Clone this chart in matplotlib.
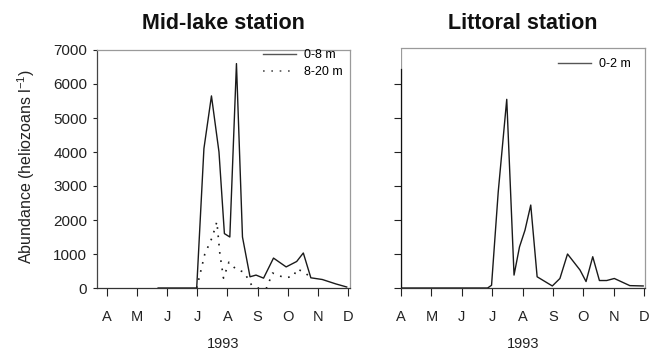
import matplotlib
matplotlib.use("Agg")
import matplotlib.pyplot as plt
from matplotlib.lines import Line2D

plt.rcParams['font.family'] = ['Liberation Sans', 'DejaVu Sans']
plt.rcParams['mathtext.fontset'] = 'custom'
plt.rcParams['mathtext.rm'] = 'Liberation Sans'
plt.rcParams['mathtext.it'] = 'Liberation Sans:italic'

# Month positions: 0 = 1 April ... 8 = 1 December 1993
month_labels = ['A', 'M', 'J', 'J', 'A', 'S', 'O', 'N', 'D']
yticks = [0, 1000, 2000, 3000, 4000, 5000, 6000, 7000]

# Mid-lake station, 0-8 m
mid_shallow_t = [1.7, 2.98, 3.22, 3.47, 3.72, 3.9, 4.08, 4.3, 4.5, 4.75, 4.95,
                 5.2, 5.53, 5.95, 6.3, 6.52, 6.77, 7.15, 7.6, 7.96]
mid_shallow_v = [0, 0, 4100, 5650, 4000, 1600, 1500, 6600, 1500, 330, 380,
                 290, 880, 620, 780, 1030, 300, 250, 120, 30]

# Mid-lake station, 8-20 m
mid_deep_t = [2.98, 3.1, 3.25, 3.5, 3.65, 3.75, 3.87, 4.05, 4.3, 4.55, 4.8,
              5.0, 5.3, 5.5, 5.9, 6.2, 6.3, 6.55, 6.77]
mid_deep_v = [0, 440, 1000, 1500, 1950, 1000, 290, 760, 540, 470, 90,
              0, 0, 440, 300, 340, 560, 470, 300]

# Littoral station, 0-2 m
lit_t = [0, 2.85, 2.98, 3.2, 3.48, 3.72, 3.9, 4.08, 4.27, 4.48, 4.98, 5.23,
         5.48, 5.89, 6.09, 6.31, 6.53, 6.77, 7.02, 7.53, 7.97]
lit_v = [0, 0, 80, 2830, 5550, 380, 1210, 1700, 2440, 330, 60, 280,
         1000, 530, 190, 920, 220, 220, 280, 70, 60]

W, H = 655, 350
fig = plt.figure(figsize=(W / 100, H / 100), dpi=100)

def box(l, t, r, b):
    return [l / W, 1 - b / H, (r - l) / W, (b - t) / H]

ax1 = fig.add_axes(box(97, 50, 350, 288))
ax2 = fig.add_axes(box(401, 48, 645, 288))

lc = '#1a1a1a'
ax1.plot(mid_shallow_t, mid_shallow_v, color=lc, lw=1.0, label='0-8 m')
ax1.plot(mid_deep_t, mid_deep_v, color=lc, lw=1.2, linestyle=(0, (1, 4)),
         label='8-20 m')
ax2.plot(lit_t, lit_v, color=lc, lw=1.0, label='0-2 m')

ax1.set_xlim(-0.33, 8.07)
ax2.set_xlim(0, 8.03)
ax1.set_ylim(0, 7000)
ax2.set_ylim(0, 7060)

for ax in (ax1, ax2):
    ax.set_xticks(range(9))
    ax.set_xticklabels(month_labels, fontsize=10.5)
    ax.tick_params(axis='x', direction='out', length=5.5, width=0.8,
                   pad=10, colors='#222')
    ax.spines['top'].set_color('#9a9a9a')
    ax.spines['right'].set_color('#9a9a9a')
    ax.spines['bottom'].set_color('#333')
    ax.spines['left'].set_color('#444')
    for s in ax.spines.values():
        s.set_linewidth(0.9)
    ax.text(0.5, -0.235, '1993', transform=ax.transAxes, ha='center',
            va='center', fontsize=10.5, color='#222')

ax1.set_yticks(yticks)
ax1.set_yticklabels([str(v) for v in yticks], fontsize=11)
ax1.tick_params(axis='y', direction='out', length=3, width=0.8, pad=4,
                colors='#222')

ax2.set_yticks(yticks[:-1])
ax2.set_yticklabels([])
ax2.tick_params(axis='y', direction='out', length=5, width=0.8, colors='#222')
ax2.spines['left'].set_bounds(0, 6450)
ax2.spines['left'].set_color('#111')
ax2.add_line(Line2D([0, 0], [0, 1], transform=ax2.transAxes,
                    color='#9a9a9a', lw=0.9, zorder=0.5))

fig.text(223.5 / W, 1 - 29 / H, 'Mid-lake station', ha='center',
         va='baseline', fontsize=15.5, fontweight='bold', color='#111')
fig.text(523 / W, 1 - 29 / H, 'Littoral station', ha='center',
         va='baseline', fontsize=15.5, fontweight='bold', color='#111')

fig.text(26 / W, 1 - 167 / H, 'Abundance (heliozoans l$^{-1}$)',
         rotation=90, ha='center', va='center', fontsize=11.5, color='#222')

leg1 = ax1.legend(loc='upper right', bbox_to_anchor=(343 / W, 1 - 49 / H),
                  bbox_transform=fig.transFigure, frameon=False, fontsize=9,
                  handlelength=2.6, handletextpad=0.7, labelspacing=0.4,
                  borderpad=0, borderaxespad=0)
leg2 = ax2.legend(loc='upper right', bbox_to_anchor=(631 / W, 1 - 58 / H),
                  bbox_transform=fig.transFigure, frameon=False, fontsize=9,
                  handlelength=2.6, handletextpad=0.7, borderpad=0,
                  borderaxespad=0)
for leg in (leg1, leg2):
    for h in leg.get_lines():
        h.set_color('#555')

fig.savefig('out.png', dpi=100)
